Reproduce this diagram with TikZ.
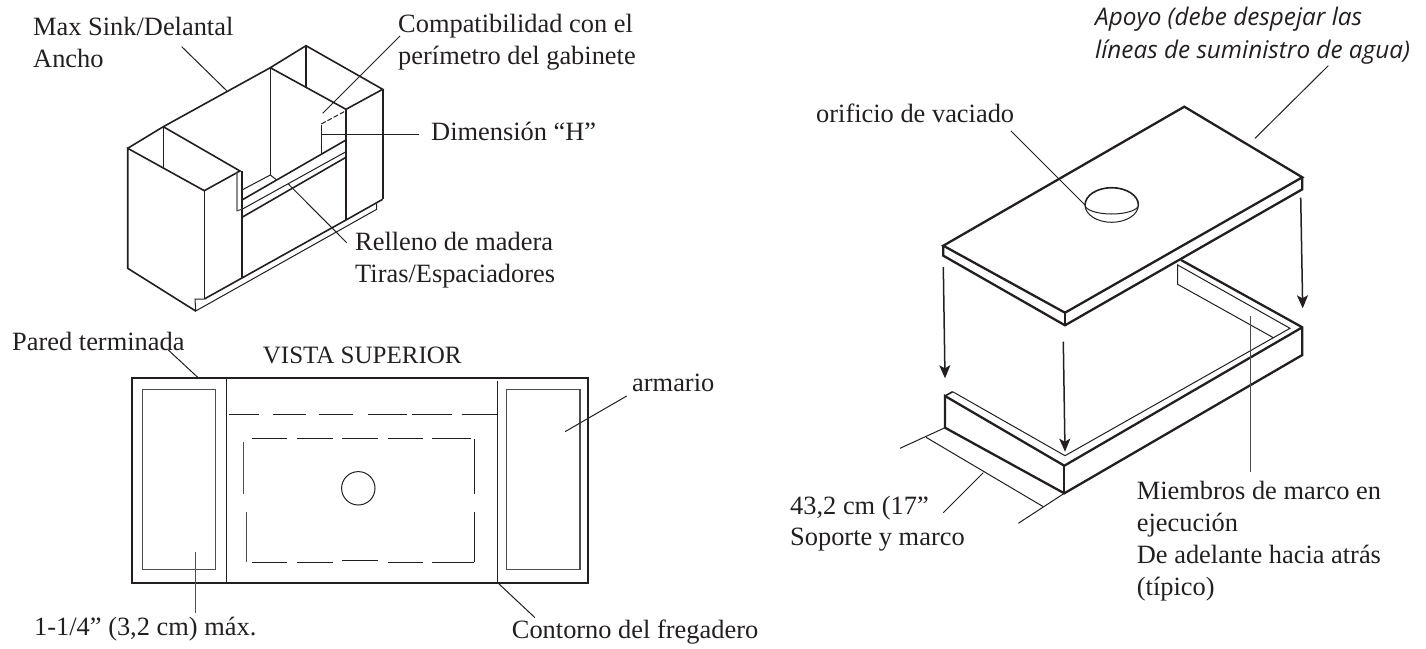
\documentclass[tikz,border=0pt]{standalone}
\usepackage{fontspec}
\setmainfont{Liberation Serif}
\newfontfamily\apoyofont{Open Sans}
\usetikzlibrary{arrows.meta}
\definecolor{inkblack}{HTML}{231F20}
\tikzset{
    lbl/.style={anchor=base west, inner sep=0pt, align=left, text=inkblack, font=\fontsize{26.4}{31.7}\selectfont},
    lblit/.style={lbl, font=\fontsize{24.3}{33}\selectfont\apoyofont\itshape},
    thinline/.style={draw=inkblack, line width=1pt},
    greyline/.style={draw=inkblack!80, line width=1.1pt},
    midline/.style={draw=inkblack, line width=1.6pt},
    heavyline/.style={draw=inkblack, line width=2.3pt, line join=miter},
    leader/.style={draw=inkblack, line width=1pt},
    droparrow/.style={draw=inkblack, line width=1.5pt, -{Stealth[length=13pt,width=11pt,inset=3pt]}},
}
\begin{document}
\begin{tikzpicture}[x=1pt,y=-1pt]
    \useasboundingbox (0,0) rectangle (1426,648);

    % cabinet
    \draw[midline] (127.7,148.3) -- (163.3,126.7) -- (270.3,67.7) -- (306,45.7) -- (382.7,89.3) -- (346,109.3) -- (270.3,67.7);
    \draw[midline] (163.3,126.7) -- (240,171) -- (204.3,190.7) -- (127.7,148.3) -- (127.7,268.3) -- (195.7,311);
    \draw[midline] (163.3,126.7) -- (163.3,168.3);
    \draw[midline] (306,45.7) -- (306,87.3);
    \draw[midline] (270.3,67.7) -- (270.3,175);
    \draw[midline] (204.3,190.7) -- (204.3,299);
    \draw[midline] (242,171) -- (242,278.3);
    \draw[midline] (346,109.3) -- (346,220);
    \draw[midline] (382.7,89.3) -- (382.7,199.3);
    \draw[midline] (204.3,299) -- (346,220) -- (382.7,199.3);
    \draw[thinline] (204.3,299) -- (195,299) -- (195.7,311) -- (376.7,209.3) -- (376.7,203.7);
    \draw[greyline] (237,171.7) -- (237,210.7) -- (242,209.3);
    \draw[midline] (242,200) -- (346,140);
    \draw[thinline] (242,209.3) -- (346,151.7);
    \draw[midline] (242,217.3) -- (346,157.3);
    \draw[thinline] (242,190) -- (270.3,175) -- (276.7,180);
    \draw[midline] (321.3,125) -- (321.3,154);
    \draw[thinline, dash pattern=on 5pt off 2pt] (321.3,124) -- (346,110.7);

    % top view
    \draw[heavyline] (131.7,378.3) rectangle (588.3,582.7);
    \draw[greyline] (142.3,389.7) rectangle (215.7,569.3);
    \draw[greyline] (506.3,389.7) rectangle (580,569.3);
    \draw[thinline] (226.7,378.3) -- (226.7,582.7);
    \draw[thinline] (497.3,380.7) -- (497.3,582.7);
    \foreach \xa/\xb in {228.7/259.3, 272.7/306, 319.3/352.7, 368/406.7, 411.7/451.7, 461.7/497.3}
        \draw[thinline] (\xa,414) -- (\xb,414);
    \foreach \xa/\xb/\ya in {251.7/287.3/438.3, 297.3/333.3/438.3, 342.3/378/438.3, 387.7/423/438.3, 432.3/471/438.3,
        251.7/287.3/562.3, 297.3/333.3/562.3, 342.3/378/560, 387.7/423/562.3, 432.3/474.3/562.3}
        \draw[thinline] (\xa,\ya) -- (\xb,\ya);
    \draw[thinline] (474.3,439) -- (474.3,494.3);
    \draw[thinline] (474.3,511.7) -- (474.3,562.3);
    \draw[greyline] (243.7,442.3) -- (243.7,494.3);
    \draw[greyline] (246.7,511.7) -- (246.7,562);
    \draw[thinline] (358.3,488.3) circle (16.7);

    % top plate
    \draw[heavyline] (943.3,245.7) -- (1184.3,106.7) -- (1302.3,177.3) -- (1065,312.7) -- cycle;
    \draw[heavyline] (943.3,245.7) -- (943.3,255.7) -- (1065,325.3) -- (1302.3,189.3) -- (1302.3,177.3);
    \draw[midline] (1065,312.7) -- (1065,325.3);
    \draw[thinline] (1085,205) arc (180:0:26.7 and 9);
    \draw[thinline] (1085,205) arc (180:0:26.7 and 17.3);
    \draw[midline] (1085,205) arc (180:360:26.7 and 17.3);

    % frame below
    \draw[heavyline] (1181,260) -- (1302.3,327.3) -- (1302.3,355) -- (1064.3,493.3) -- (945,427.7) -- (945,396) -- (1064.3,465.7) -- (1302.3,327.3);
    \draw[heavyline] (1064.3,465.7) -- (1064.3,493.3);
    \draw[midline] (945,396) -- (952.7,391.7);
    \draw[thinline] (952.7,391.7) -- (1065,455.7) -- (1290,328.3) -- (1177.7,265) -- (1177.7,284.3) -- (1272.7,337.3);
    \draw[thinline] (945,427.7) -- (900,448.3);
    \draw[thinline] (1064.3,493.3) -- (1018.3,523.3);
    \draw[thinline] (926,437.3) -- (1043.3,506.7);

    \coordinate (dropAa) at (943.3,267);
    \coordinate (dropAb) at (945,378.3);
    \coordinate (dropBa) at (1063.3,341.7);
    \coordinate (dropBb) at (1065,451.7);
    \coordinate (dropCa) at (1300.7,197.7);
    \coordinate (dropCb) at (1302.7,308.3);
    \draw[droparrow] (dropAa) -- (dropAb);
    \draw[droparrow] (dropBa) -- (dropBb);
    \draw[droparrow] (dropCa) -- (dropCb);

    % labels
    \node[lbl] (anchoLbl) at (33,67) {Max Sink/Delantal\\Ancho};
    \node[lbl] (perimLbl) at (398,64) {Compatibilidad con el\\perímetro del gabinete};
    \node[lbl] (dimhLbl) at (431,140) {Dimensión “H”};
    \node[lbl] (rellenoLbl) at (355,282) {Relleno de madera\\Tiras/Espaciadores};
    \node[lbl] (paredLbl) at (12,350) {Pared terminada};
    \node[lbl, font=\fontsize{25}{31.7}\selectfont] (vistaLbl) at (262.7,363.3) {VISTA SUPERIOR};
    \node[lbl] (armarioLbl) at (632,391.7) {armario};
    \node[lbl] (maxLbl) at (34,635.7) {1-1/4” (3,2 cm) máx.};
    \node[lbl] (contornoLbl) at (511.7,638) {Contorno del fregadero};
    \node[lblit] (apoyoLbl) at (1095,58) {Apoyo (debe despejar las\\líneas de suministro de agua)};
    \node[lbl] (orificioLbl) at (816,122) {orificio de vaciado};
    \node[lbl] (soporteLbl) at (790,545.7) {43,2 cm (17”\\Soporte y marco};
    \node[lbl] (miembrosLbl) at (1136.7,595) {Miembros de marco en\\ejecución\\De adelante hacia atrás\\(típico)};

    % leaders
    \coordinate (anchoEnd) at (226.7,90.7);
    \coordinate (perimEnd) at (322.7,113.3);
    \coordinate (dimhEnd) at (321.7,134.3);
    \coordinate (rellenoEnd) at (288.3,184);
    \coordinate (paredEnd) at (197.7,377.3);
    \coordinate (armarioEnd) at (565,431.7);
    \coordinate (maxEnd) at (195.7,552.3);
    \coordinate (contornoEnd) at (498.3,583.3);
    \coordinate (apoyoEnd) at (1255,138.3);
    \coordinate (orificioEnd) at (1085,205);
    \coordinate (soporteEnd) at (983.3,472.7);
    \coordinate (miembrosEnd) at (1250.7,316);
    \draw[leader] (181.7,46.7) coordinate (anchoStart) -- (anchoEnd);
    \draw[leader] (400,36) coordinate (perimStart) -- (perimEnd);
    \draw[leader] (419.3,134.3) coordinate (dimhStart) -- (dimhEnd);
    \draw[leader] (346.7,242.7) coordinate (rellenoStart) -- (rellenoEnd);
    \draw[leader] (168.3,350) coordinate (paredStart) -- (paredEnd);
    \draw[leader] (626.7,396) coordinate (armarioStart) -- (armarioEnd);
    \draw[greyline] (195.7,612.7) coordinate (maxStart) -- (maxEnd);
    \draw[leader] (535,617.7) coordinate (contornoStart) -- (contornoEnd);
    \draw[leader] (1328.3,65.7) coordinate (apoyoStart) -- (apoyoEnd);
    \draw[leader] (1011,131) coordinate (orificioStart) -- (orificioEnd);
    \draw[leader] (943.3,512.7) coordinate (soporteStart) -- (soporteEnd);
    \draw[greyline] (1250.7,471.7) coordinate (miembrosStart) -- (miembrosEnd);
\end{tikzpicture}
\end{document}
